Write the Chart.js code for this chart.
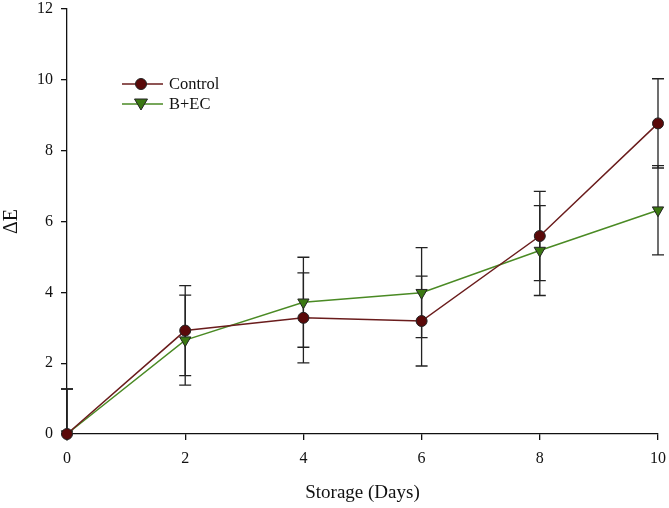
<!DOCTYPE html>
<html>
<head>
<meta charset="utf-8">
<script src="https://cdn.jsdelivr.net/npm/chart.js@4.4.1/dist/chart.umd.min.js"></script>
<style>
  html, body { margin: 0; padding: 0; background: #fff; }
  #wrap { width: 669px; height: 508px; }
</style>
</head>
<body>
<div id="wrap"><canvas id="myChart"></canvas></div>
<script>
const days = [0, 2, 4, 6, 8, 10];
const controlVals = [0, 2.92, 3.28, 3.19, 5.59, 8.77];
const controlErr = [1.27, 1.27, 1.27, 1.27, 1.26, 1.26];
const becVals = [0, 2.65, 3.72, 3.99, 5.18, 6.32];
const becErr = [1.27, 1.27, 1.27, 1.27, 1.27, 1.26];
const yTicks = [0, 2, 4, 6, 8, 10, 12];

const serif = "'Liberation Serif', 'Times New Roman', serif";
const ctrlLine = '#6a1c1c', ctrlFill = '#5a0909';
const becLine = '#4a8a24', becFill = '#3b7812';

const errs = [controlErr, becErr];

// error bars under the markers
const errorBars = {
    id: 'errorBars',
    beforeDatasetsDraw(chart) {
        const c = chart.ctx, xs = chart.scales.x, ys = chart.scales.y;
        const area = chart.chartArea;
        c.save();
        c.strokeStyle = '#222';
        c.lineWidth = 1.3;
        chart.data.datasets.forEach(function (ds, i) {
            ds.data.forEach(function (p, j) {
                const x = xs.getPixelForValue(p.x);
                const hi = ys.getPixelForValue(p.y + errs[i][j]);
                let lo = ys.getPixelForValue(p.y - errs[i][j]);
                const clipLo = lo > area.bottom;
                if (clipLo) lo = area.bottom;
                c.beginPath();
                c.moveTo(x, hi); c.lineTo(x, lo);
                c.moveTo(x - 6, hi); c.lineTo(x + 6, hi);
                if (!clipLo) { c.moveTo(x - 6, lo); c.lineTo(x + 6, lo); }
                c.stroke();
            });
        });
        c.restore();
    }
};

// legend inside the plot, top left
const insideLegend = {
    id: 'insideLegend',
    afterDraw(chart) {
        const c = chart.ctx;
        c.save();
        chart.data.datasets.forEach(function (ds, i) {
            const y = 84 + i * 20;
            c.strokeStyle = ds.borderColor;
            c.lineWidth = 1.5;
            c.beginPath(); c.moveTo(122, y); c.lineTo(163, y); c.stroke();
            c.fillStyle = ds.pointBackgroundColor;
            c.strokeStyle = '#222';
            c.lineWidth = 1;
            c.beginPath();
            if (i === 0) {
                c.arc(141, y, 5.5, 0, Math.PI * 2);
            } else {
                c.moveTo(134.5, y - 5); c.lineTo(147.5, y - 5); c.lineTo(141, y + 6); c.closePath();
            }
            c.fill(); c.stroke();
            c.fillStyle = '#111';
            c.font = '16.5px ' + serif;
            c.textBaseline = 'middle';
            c.fillText(ds.label, 169, y + 1);
        });
        c.restore();
    }
};

const ctx = document.getElementById('myChart');

let graphData = {
    type: 'line',
    data: {
        datasets: [{
            label: 'Control',
            data: days.map((d, i) => ({ x: d, y: controlVals[i] })),
            borderColor: ctrlLine, borderWidth: 1.5, clip: false,
            pointStyle: 'circle', pointRadius: 5.5,
            pointBackgroundColor: ctrlFill, pointBorderColor: '#222', pointBorderWidth: 1
        }, {
            label: 'B+EC',
            data: days.map((d, i) => ({ x: d, y: becVals[i] })),
            borderColor: becLine, borderWidth: 1.5, clip: false,
            pointStyle: 'triangle', pointRotation: 180, pointRadius: 6.5,
            pointBackgroundColor: becFill, pointBorderColor: '#222', pointBorderWidth: 1
        }]
    },
    options: {
        responsive: true,
        maintainAspectRatio: false,
        animation: false,
        layout: { padding: { top: 9, right: 11, left: 0, bottom: 0 } },
        plugins: { legend: { display: false }, tooltip: { enabled: false } },
        elements: { line: { tension: 0 } },
        scales: {
            x: {
                type: 'linear', min: 0, max: 10,
                afterFit(s) { s.height = 74; s.paddingLeft = 0; s.paddingRight = 0; },
                ticks: { stepSize: 2, color: '#111', font: { family: serif, size: 16 }, padding: 9 },
                grid: { drawOnChartArea: false, drawTicks: true, tickLength: 6, color: '#111', lineWidth: 1.3 },
                border: { display: true, color: '#111', width: 1.3 },
                title: { display: true, text: 'Storage (Days)', color: '#111', font: { family: serif, size: 19 }, padding: { top: 13 } }
            },
            y: {
                min: 0, max: 12,
                afterFit(s) { s.width = 67; s.paddingTop = 0; s.paddingBottom = 0; },
                afterBuildTicks(s) { s.ticks = yTicks.map(v => ({ value: v })); },
                ticks: { color: '#111', font: { family: serif, size: 16 }, padding: 8 },
                grid: { drawOnChartArea: false, drawTicks: true, tickLength: 6, color: '#111', lineWidth: 1.3 },
                border: { display: true, color: '#111', width: 1.3 },
                title: { display: true, text: 'ΔE', color: '#111', font: { family: serif, size: 20 }, padding: { top: 0, bottom: 0 } }
            }
        }
    },
    plugins: [errorBars, insideLegend]
};

var myChart = new Chart(ctx, graphData);
</script>
</body>
</html>
